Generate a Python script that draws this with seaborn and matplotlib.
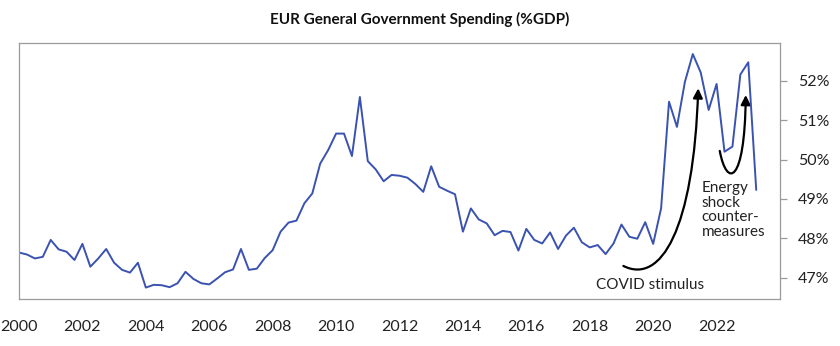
import numpy as np
import pandas as pd
import matplotlib
matplotlib.use("Agg")
import matplotlib.pyplot as plt
from matplotlib.path import Path
from matplotlib.patches import FancyArrowPatch
import seaborn as sns

# ---- data (quarterly, 2000Q1 .. 2023Q2) ----
start_year = 2000
spending = [
    47.64, 47.59, 47.49, 47.53, 47.96, 47.72, 47.66, 47.45,
    47.86, 47.28, 47.49, 47.73, 47.38, 47.20, 47.13, 47.38,
    46.75, 46.82, 46.81, 46.76, 46.86, 47.15, 46.97, 46.86,
    46.83, 46.98, 47.14, 47.21, 47.73, 47.20, 47.23, 47.50,
    47.70, 48.17, 48.40, 48.45, 48.89, 49.14, 49.90, 50.24,
    50.66, 50.66, 50.09, 51.59, 49.96, 49.75, 49.45, 49.61,
    49.59, 49.54, 49.38, 49.18, 49.83, 49.31, 49.21, 49.12,
    48.17, 48.76, 48.48, 48.38, 48.08, 48.19, 48.16, 47.69,
    48.24, 47.96, 47.87, 48.15, 47.73, 48.07, 48.27, 47.90,
    47.77, 47.83, 47.60, 47.87, 48.35, 48.04, 47.99, 48.41,
    47.86, 48.76, 51.47, 50.83, 51.97, 52.68, 52.21, 51.26,
    51.92, 50.20, 50.33, 52.16, 52.47, 49.23,
]
year_ticks = [2000, 2002, 2004, 2006, 2008, 2010, 2012, 2014, 2016, 2018, 2020, 2022]
pct_ticks = [47, 48, 49, 50, 51, 52]
pct_labels = [f"{v}%" for v in pct_ticks]
title = "EUR General Government Spending (%GDP)"
covid_label = "COVID stimulus"
energy_label = "Energy\nshock\ncounter-\nmeasures"

df = pd.DataFrame({
    "year": start_year + np.arange(len(spending)) / 4.0,
    "spending": spending,
})

sns.set_style("white")
plt.rcParams["font.family"] = ["Lato", "DejaVu Sans"]

fig = plt.figure(figsize=(8.4, 3.46), dpi=100)
ax = fig.add_axes([19 / 840, 47 / 346, 761 / 840, 256 / 346])

sns.lineplot(data=df, x="year", y="spending", ax=ax, color="#3a52b0", linewidth=1.4)

ax.set_xlim(2000, 2024)
ax.set_ylim(46.46, 52.96)
ax.set_xticks(year_ticks)
ax.set_xticklabels([str(y) for y in year_ticks])
ax.set_yticks(pct_ticks)
ax.set_yticklabels(pct_labels)
ax.yaxis.tick_right()
ax.set_xlabel("")
ax.set_ylabel("")

for s in ax.spines.values():
    s.set_visible(True)
    s.set_color("#9a9a9a")
    s.set_linewidth(0.9)

ax.tick_params(axis="x", direction="out", length=5, width=0.9, color="#9a9a9a",
               labelsize=11.5, labelcolor="#222222", pad=10)
ax.tick_params(axis="y", direction="out", length=5, width=0.9, color="#9a9a9a",
               labelsize=11.5, labelcolor="#222222", pad=8, right=True, left=False)

fig.text(0.5, 1 - 19 / 346, title, ha="center", va="center",
         fontsize=11, fontweight="bold", color="#111111")

# annotations
covid_path = Path(
    [(2019.06, 47.30), (2020.24, 46.82), (2021.28, 48.21), (2021.42, 51.81)],
    [Path.MOVETO, Path.CURVE4, Path.CURVE4, Path.CURVE4],
)
energy_path = Path(
    [(2022.10, 50.22), (2022.32, 49.28), (2022.89, 49.35), (2022.92, 51.64)],
    [Path.MOVETO, Path.CURVE4, Path.CURVE4, Path.CURVE4],
)
for p in (covid_path, energy_path):
    arr = FancyArrowPatch(path=p, arrowstyle="-|>", mutation_scale=14,
                          color="black", linewidth=1.6, transform=ax.transData)
    ax.add_patch(arr)

ax.text(2019.89, 46.81, covid_label, ha="center", va="center",
        fontsize=11, color="#222222")
ax.text(2021.53, 49.45, energy_label, ha="left", va="top",
        fontsize=11, color="#222222", linespacing=1.05)

fig.savefig("out.png", dpi=100, facecolor="white")
